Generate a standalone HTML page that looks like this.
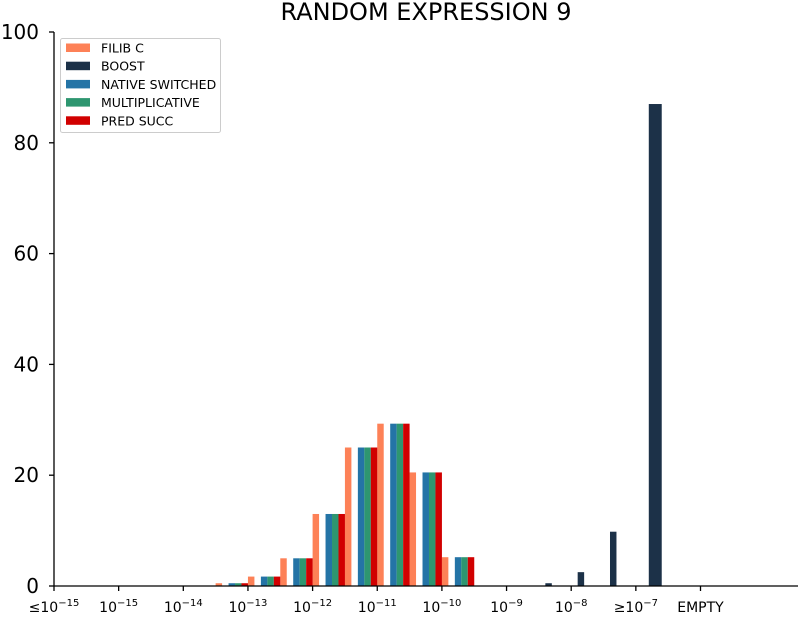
<!DOCTYPE html>
<html><head><meta charset="utf-8"><style>
body{margin:0;background:#fff;}
svg{display:block;font-family:"DejaVu Sans","Liberation Sans",sans-serif;}
</style></head><body>
<svg id="chart" width="798" height="617" viewBox="0 0 798 617">
<text x="426" y="20" font-size="24" text-anchor="middle">RANDOM EXPRESSION 9</text>
<g id="bars"></g>
<g id="axes"></g>
<g id="legend">
<rect x="60.5" y="38.5" width="160" height="94" rx="2" fill="#fff" fill-opacity="0.8" stroke="#ccc"/>
</g>
</svg>
<script>
const tickLabels = ["≤10^-15","10^-15","10^-14","10^-13","10^-12","10^-11","10^-10","10^-9","10^-8","≥10^-7","EMPTY"];
const seriesNames = ["FILIB C","BOOST","NATIVE SWITCHED","MULTIPLICATIVE","PRED SUCC"];
const seriesColors = ["#fd8157","#1c3148","#2474a6","#2e9670","#d10000"];
const filibC =       [0,0,0,0,0,0.5,1.7,5,13,25,29.3,20.5,5.2,0,0,0,0,0,0,0,0,0];
const boost =        [0,0,0,0,0,0,0,0,0,0,0,0,0,0,0,0.5,2.5,9.8,87,0,0,0];
const nativeSwitched=[0,0,0,0,0,0.5,1.7,5,13,25,29.3,20.5,5.2,0,0,0,0,0,0,0,0,0];
const multiplicative=[0,0,0,0,0,0.5,1.7,5,13,25,29.3,20.5,5.2,0,0,0,0,0,0,0,0,0];
const predSucc =     [0,0,0,0,0,0.5,1.7,5,13,25,29.3,20.5,5.2,0,0,0,0,0,0,0,0,0];
const yTicks = [0,20,40,60,80,100];

const NS="http://www.w3.org/2000/svg";
const X0=54, TICKSTEP=64.65, BIN=TICKSTEP/2, BW=6.47, Y0=586, YTOP=32;
const y=v=>Y0-(v/100)*(Y0-YTOP);
const xBin=i=>X0+i*BIN;
const series=[filibC,boost,nativeSwitched,multiplicative,predSucc];
const keys=["filib-c","boost","native-switched","multiplicative","pred-succ"];
const bars=document.getElementById('bars');
series.forEach((arr,s)=>{
  arr.forEach((v,i)=>{
    if(v<=0) return;
    let x=xBin(i)+s*BW, w=BW;
    if(s===1 && v>50){x=xBin(i)+2*BW; w=2*BW;}
    const r=document.createElementNS(NS,'rect');
    r.setAttribute('x',x);r.setAttribute('y',y(v));
    r.setAttribute('width',w);r.setAttribute('height',Y0-y(v));
    r.setAttribute('fill',seriesColors[s]);
    
    
    bars.appendChild(r);
  });
});
const axes=document.getElementById('axes');
function line(x1,y1,x2,y2,name){
  const l=document.createElementNS(NS,'line');
  l.setAttribute('x1',x1);l.setAttribute('y1',y1);l.setAttribute('x2',x2);l.setAttribute('y2',y2);
  l.setAttribute('stroke','#000');l.setAttribute('stroke-width','1.3');
  
  
  axes.appendChild(l);
}
line(X0,YTOP,X0,Y0,'y-axis-spine');
line(X0,Y0,798,Y0,'x-axis-spine');
yTicks.forEach(t=>{
  line(X0-5,y(t),X0,y(t),'y-tick');
  const tx=document.createElementNS(NS,'text');
  tx.setAttribute('x',X0-15);tx.setAttribute('y',y(t)+7);
  tx.setAttribute('font-size','20');tx.setAttribute('text-anchor','end');
  tx.textContent=t;
  
  
  axes.appendChild(tx);
});
tickLabels.forEach((lab,i)=>{
  const x=X0+i*TICKSTEP;
  line(x,Y0,x,Y0+5,'x-tick');
  const tx=document.createElementNS(NS,'text');
  tx.setAttribute('x',x);tx.setAttribute('y',Y0+26);
  tx.setAttribute('font-size','14');tx.setAttribute('text-anchor','middle');
  
  
  const m=lab.match(/^(.*)\^(.*)$/);
  if(m){
    const a=document.createElementNS(NS,'tspan');a.textContent=m[1];
    const b=document.createElementNS(NS,'tspan');b.textContent=m[2].replace('-','−');
    b.setAttribute('font-size','10');b.setAttribute('dy','-6');
    tx.appendChild(a);tx.appendChild(b);
  } else tx.textContent=lab;
  axes.appendChild(tx);
});
const lg=document.getElementById('legend');
seriesNames.forEach((n,s)=>{
  const cy=48+s*18.2;
  const r=document.createElementNS(NS,'rect');
  r.setAttribute('x',66);r.setAttribute('y',cy-4.5);r.setAttribute('width',24);r.setAttribute('height',8.5);
  r.setAttribute('fill',seriesColors[s]);
  
  
  lg.appendChild(r);
  const t=document.createElementNS(NS,'text');
  t.setAttribute('x',101);t.setAttribute('y',cy+4.5);t.setAttribute('font-size','12.5');
  t.textContent=n;
  
  
  lg.appendChild(t);
});
</script>
</body></html>
